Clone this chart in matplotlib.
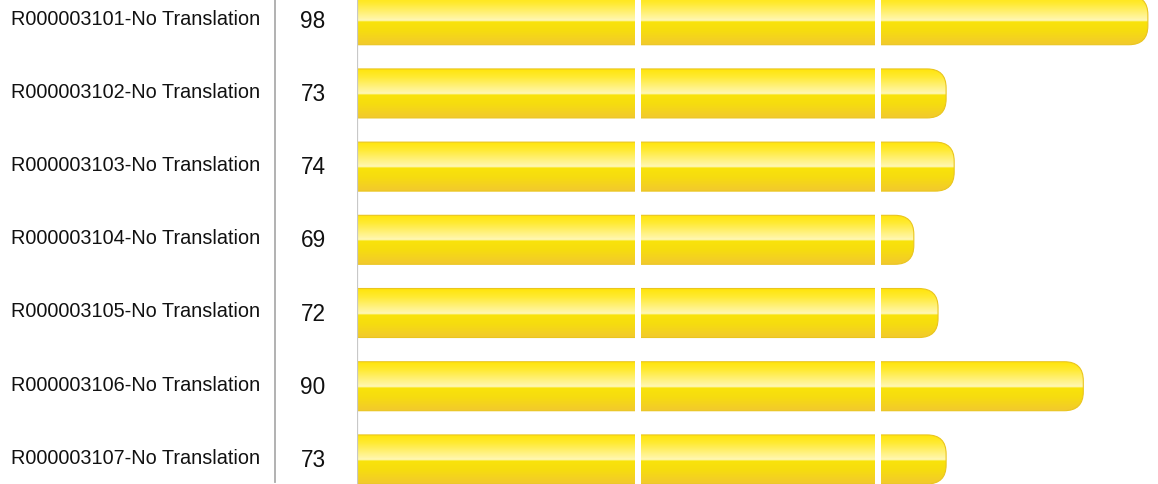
"""
Horizontal glossy bar chart, one bar per record
"""
import numpy as np
import matplotlib
matplotlib.use("Agg")
import matplotlib.pyplot as plt
from matplotlib.patches import FancyBboxPatch
from matplotlib.lines import Line2D
from matplotlib.colors import LinearSegmentedColormap
from matplotlib.transforms import blended_transform_factory

labels = ['R000003101-No Translation', 'R000003102-No Translation', 'R000003103-No Translation',
          'R000003104-No Translation', 'R000003105-No Translation', 'R000003106-No Translation',
          'R000003107-No Translation']
values = [98, 73, 74, 69, 72, 90, 73]
gaps = [34.8, 64.6]   # white breaks across the bars

plt.rcParams['font.family'] = ['Liberation Sans', 'DejaVu Sans']

W, H = 1158, 485
fig = plt.figure(figsize=(W / 100, H / 100), dpi=100)
x0 = 357 / W
ax = fig.add_axes([x0, 0, 1 - x0, 1])

px_x = 8.07     # pixels per value unit
px_y = 73.2     # pixels per row
ax.set_xlim(0, (W - 357) / px_x)
ax.set_ylim(6.336, -0.29)
ax.axis('off')

bar_h = 49 / px_y
r_px = 19
aspect = px_x / px_y

# vertical gradient of the bar face
grad = LinearSegmentedColormap.from_list('gloss', [
    (0.00, '#FFE50C'), (0.15, '#FFEA30'), (0.32, '#FFF070'), (0.47, '#FFF6A8'),
    (0.50, '#FFF8BC'), (0.53, '#F9E30A'), (0.72, '#F6DC10'), (1.00, '#F2C92E')])
col = grad(np.linspace(0, 1, 200))[:, None, :3]

for i, v in enumerate(values):
    top = i - bar_h / 2
    patch = FancyBboxPatch((-5, top), v + 5, bar_h,
                           boxstyle="round,pad=0,rounding_size=%f" % (r_px / px_x),
                           mutation_aspect=aspect, facecolor='none',
                           edgecolor='#EAC51E', linewidth=0.8, zorder=2)
    ax.add_patch(patch)
    im = ax.imshow(col, extent=(-5, v + 0.5, top + bar_h, top), aspect='auto',
                   interpolation='bilinear', zorder=1)
    im.set_clip_path(patch)

for g in gaps:
    ax.axvline(g, color='white', linewidth=6 * 0.72, zorder=3)

# axis line at the bar base and the divider between label and value
ax.axvline(0, color='#C8C8C8', linewidth=1.6, zorder=4)
fig.add_artist(Line2D([275 / W, 275 / W], [0.005, 1], color='#ABABAB', linewidth=1.3))

tr = blended_transform_factory(fig.transFigure, ax.transData)
for i, (lab, v) in enumerate(zip(labels, values)):
    ax.text(260 / W, i - 0.03, lab, transform=tr, ha='right', va='center',
            fontsize=14.3, color='#111111', clip_on=False)
    ax.text(313 / W, i, str(v), transform=tr, ha='center', va='center',
            fontsize=16.3, color='#111111', clip_on=False)

fig.savefig('out.png', dpi=100)
